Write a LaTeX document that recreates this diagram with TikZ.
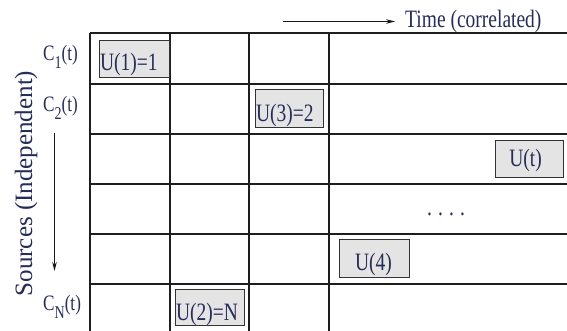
\documentclass[tikz,border=0pt]{standalone}
\usepackage{fontspec}
\usepackage{graphicx}
\setmainfont{Liberation Serif}
\usetikzlibrary{arrows.meta}

\definecolor{ink}{RGB}{38,44,88}
\definecolor{cellgray}{RGB}{228,228,228}
\definecolor{rule}{RGB}{30,30,30}

% condensed setting used for all horizontal labels
\newcommand{\narrowtext}[1]{\scalebox{0.78}[1]{#1}}
\newcommand{\subidx}[1]{\raisebox{-8pt}{\fontsize{18}{18}\selectfont #1}}

\begin{document}
\begin{tikzpicture}[x=1pt,y=-1pt,
  gridline/.style={line width=1.5pt, draw=rule},
  slot/.style={draw=black!80, line width=1.3pt, fill=cellgray, inner sep=0pt},
  lbl/.style={text=ink, inner sep=0pt, font=\fontsize{25}{28}\selectfont},
  rowlbl/.style={text=ink, inner sep=0pt, font=\fontsize{22}{26}\selectfont, anchor=base west},
  axisarrow/.style={line width=1.1pt, draw=black!90, -{Stealth[length=9pt,width=4.5pt]}},
]
\useasboundingbox (0,0) rectangle (567,331);
\clip (0,0) rectangle (567,331);

% table: six source rows, time slots running off to the right
\foreach \yy in {33,84,134,184,234,284,334}
  \draw[gridline] (90,\yy) -- (575,\yy);
\foreach \xx in {90,170,249,329}
  \draw[gridline] (\xx,33) -- (\xx,340);

% time axis
\node[lbl, anchor=base west] (timelbl) at (405,28) {\narrowtext{Time (correlated)}};
\coordinate (tstart) at (283,21.5);
\draw[axisarrow, shorten >=10pt] (tstart) -- (tstart -| timelbl.west);

% source axis
\node[lbl, rotate=90, anchor=base] (srclbl) at (32,183.5) {Sources (Independent)};
\coordinate (sstart) at (54.5,133);
\coordinate (send) at (54.5,271);
\draw[axisarrow] (sstart) -- (send);

% row labels
\node[rowlbl] (c1) at (43,61) {\narrowtext{C\subidx{1}(t)}};
\node[rowlbl] (c2) at (43,112) {\narrowtext{C\subidx{2}(t)}};
\node[rowlbl] (cn) at (43,310) {\narrowtext{C\subidx{N}(t)}};

% scheduled slots
\node[slot, minimum width=70pt, minimum height=37pt] (b1) at (134.5,59) {};
\node[slot, minimum width=68pt, minimum height=38pt] (b3) at (289.5,108.5) {};
\node[slot, minimum width=68pt, minimum height=37pt] (bt) at (529.5,159) {};
\node[slot, minimum width=70pt, minimum height=38pt] (b4) at (374.5,258.5) {};
\node[slot, minimum width=69pt, minimum height=36pt] (b2) at (210,307.5) {};

\node[lbl, anchor=base west] (u1) at ([xshift=1pt,yshift=8pt]b1.south west) {\narrowtext{U(1)=1}};
\node[lbl, anchor=base west] (u3) at ([xshift=1pt,yshift=7pt]b3.south west) {\narrowtext{U(3)=2}};
\node[lbl, anchor=base] (ut) at ([xshift=-4pt,yshift=12pt]bt.south) {\narrowtext{U(t)}};
\node[lbl, anchor=base] (u4) at ([xshift=-1pt,yshift=8pt]b4.south) {\narrowtext{U(4)}};
\node[lbl, anchor=base west] (u2) at ([xshift=1pt,yshift=6pt]b2.south west) {\narrowtext{U(2)=N}};

% remaining slots elided
\node[lbl, anchor=base] (dots) at (446,215) {\narrowtext{.\hspace{7.9pt}.\hspace{7.9pt}.\hspace{7.9pt}.}};
\end{tikzpicture}
\end{document}
